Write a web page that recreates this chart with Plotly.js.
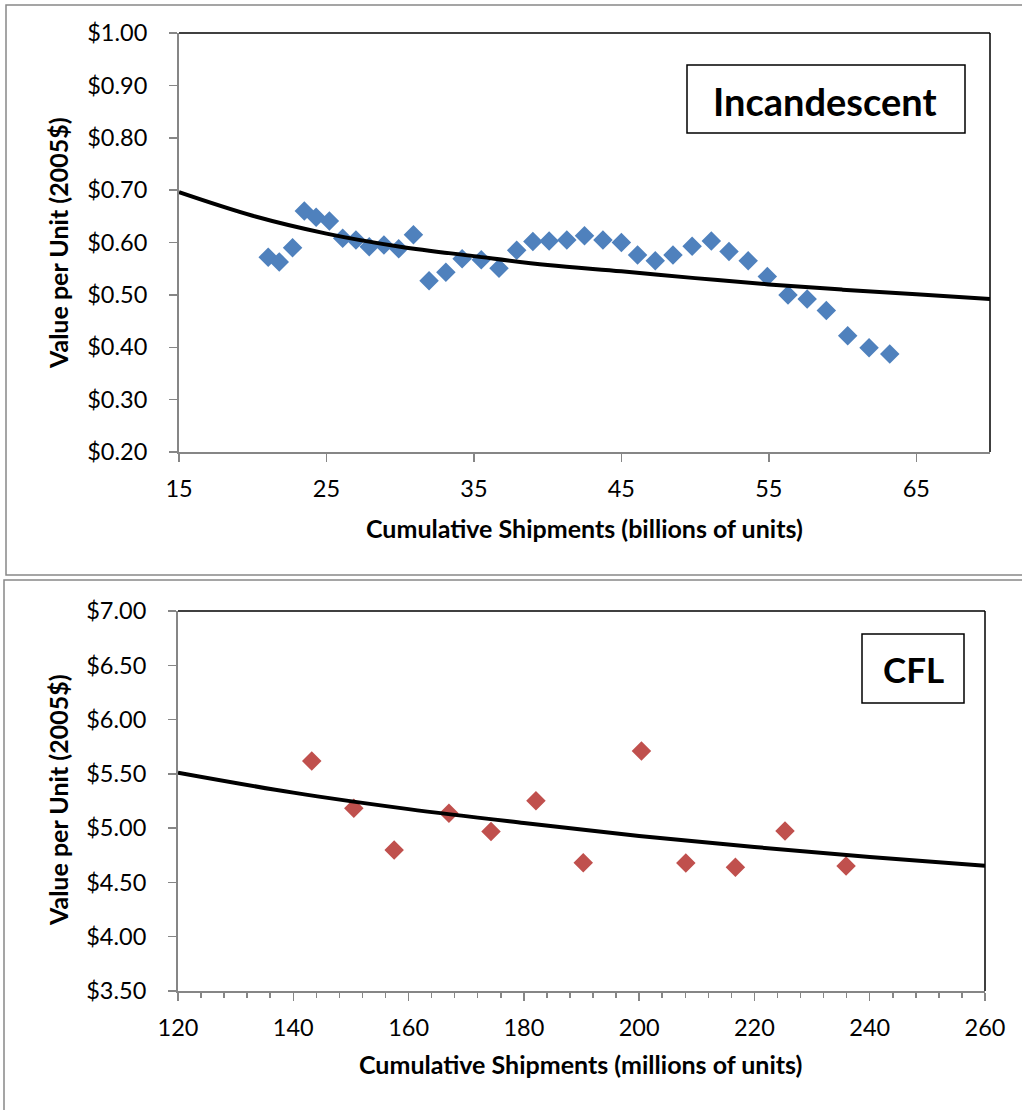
<!DOCTYPE html>
<html>
<head>
<meta charset="utf-8">
<script src="https://cdn.plot.ly/plotly-3.0.1.min.js"></script>
<style>html,body{margin:0;padding:0;background:#fff;}#chart{width:1022px;height:1110px;}</style>
</head>
<body>
<div id="chart"></div>
<script>
// Incandescent: cumulative shipments (billions) and value per unit (2005$)
const incX = [21.05, 21.8, 22.7, 23.5, 24.3, 25.2, 26.1, 27.0, 27.9, 28.9, 29.9, 30.9, 31.96, 33.1, 34.2, 35.5, 36.7, 37.9, 39.0, 40.1, 41.3, 42.5, 43.75, 45.0, 46.1, 47.3, 48.5, 49.8, 51.1, 52.3, 53.6, 54.9, 56.3, 57.6, 58.9, 60.35, 61.8, 63.2];
const incY = [0.572, 0.563, 0.590, 0.660, 0.648, 0.641, 0.608, 0.605, 0.592, 0.595, 0.588, 0.615, 0.527, 0.543, 0.569, 0.567, 0.551, 0.585, 0.602, 0.603, 0.605, 0.613, 0.605, 0.600, 0.576, 0.565, 0.576, 0.593, 0.603, 0.583, 0.565, 0.535, 0.500, 0.492, 0.470, 0.422, 0.399, 0.387];
// Incandescent trend line
const incTrendX = [15, 20, 25, 30, 35, 40, 45, 50, 55, 60, 65, 70];
const incTrendY = [0.696, 0.651, 0.617, 0.592, 0.574, 0.557, 0.545, 0.532, 0.520, 0.510, 0.501, 0.492];

// CFL: cumulative shipments (millions) and value per unit (2005$)
const cflX = [143.2, 150.5, 157.5, 167.0, 174.3, 182.1, 190.3, 200.4, 208.1, 216.7, 225.3, 235.9];
const cflY = [5.618, 5.183, 4.799, 5.137, 4.968, 5.253, 4.682, 5.710, 4.679, 4.639, 4.974, 4.651];
// CFL trend line
const cflTrendX = [120, 140, 160, 180, 200, 220, 240, 260];
const cflTrendY = [5.511, 5.327, 5.175, 5.047, 4.928, 4.826, 4.735, 4.654];

const incTitle = 'Incandescent';
const cflTitle = 'CFL';
const yTitle = 'Value per Unit (2005$)';
const xTitleTop = 'Cumulative Shipments (billions of units)';
const xTitleBottom = 'Cumulative Shipments (millions of units)';

const W = 1022, H = 1110;
const px = v => v / W;
const py = v => 1 - v / H;

const FONT = 'Lato, "Open Sans", sans-serif';
const AX = '#868686';

const traces = [
  {x: incX, y: incY, xaxis: 'x', yaxis: 'y', mode: 'markers', type: 'scatter',
   marker: {symbol: 'diamond', size: 15, color: '#4F81BD', line: {width: 0}}},
  {x: incTrendX, y: incTrendY, xaxis: 'x', yaxis: 'y', mode: 'lines', type: 'scatter',
   line: {color: '#000', width: 4, shape: 'spline'}},
  {x: cflX, y: cflY, xaxis: 'x2', yaxis: 'y2', mode: 'markers', type: 'scatter',
   marker: {symbol: 'diamond', size: 15, color: '#C0504D', line: {width: 0}}},
  {x: cflTrendX, y: cflTrendY, xaxis: 'x2', yaxis: 'y2', mode: 'lines', type: 'scatter',
   line: {color: '#000', width: 4, shape: 'spline'}}
];

const tickFont = {family: FONT, size: 23.5, color: '#000'};
const baseAxis = {
  showgrid: false, zeroline: false, showline: true, linecolor: AX, linewidth: 2,
  ticks: 'outside', tickcolor: AX, tickwidth: 1.5, ticklen: 8, tickfont: tickFont,
  fixedrange: true
};

const layout = {
  width: W, height: H,
  margin: {l: 0, r: 0, t: 0, b: 0},
  paper_bgcolor: '#fff', plot_bgcolor: '#fff',
  showlegend: false,
  xaxis: Object.assign({}, baseAxis, {
    domain: [px(179), px(990)], anchor: 'y', range: [15, 70],
    tick0: 15, dtick: 10, ticklabelstandoff: 7
  }),
  yaxis: Object.assign({}, baseAxis, {
    domain: [py(452), py(33)], anchor: 'x', range: [0.2, 1.0],
    dtick: 0.1, tickformat: '$.2f', ticklabelstandoff: 17
  }),
  xaxis2: Object.assign({}, baseAxis, {
    domain: [px(178), px(985)], anchor: 'y2', range: [120, 260],
    tick0: 120, dtick: 20, ticklabelstandoff: 7,
    minor: {dtick: 4, ticks: 'outside', ticklen: 5, tickcolor: AX, tickwidth: 1.5, showgrid: false}
  }),
  yaxis2: Object.assign({}, baseAxis, {
    domain: [py(991), py(611)], anchor: 'x2', range: [3.5, 7.0],
    dtick: 0.5, tickformat: '$.2f', ticklabelstandoff: 17
  }),
  shapes: [
    {type: 'rect', xref: 'paper', yref: 'paper', x0: px(6), x1: px(1030), y0: py(575), y1: py(5),
     line: {color: '#888', width: 1.5}, layer: 'below'},
    {type: 'rect', xref: 'paper', yref: 'paper', x0: px(4), x1: px(1030), y0: py(1120), y1: py(580),
     line: {color: '#888', width: 1.5}, layer: 'below'},
    {type: 'line', xref: 'paper', yref: 'paper', x0: px(179), x1: px(990), y0: py(33), y1: py(33), line: {color: '#000', width: 1.5}},
    {type: 'line', xref: 'paper', yref: 'paper', x0: px(990), x1: px(990), y0: py(33), y1: py(452), line: {color: '#000', width: 1.5}},
    {type: 'line', xref: 'paper', yref: 'paper', x0: px(178), x1: px(985), y0: py(611), y1: py(611), line: {color: '#000', width: 1.5}},
    {type: 'line', xref: 'paper', yref: 'paper', x0: px(985), x1: px(985), y0: py(611), y1: py(991), line: {color: '#000', width: 1.5}},
    {type: 'rect', xref: 'paper', yref: 'paper', x0: px(687), x1: px(965), y0: py(133), y1: py(65),
     line: {color: '#000', width: 1.5}, fillcolor: '#fff'},
    {type: 'rect', xref: 'paper', yref: 'paper', x0: px(862), x1: px(964), y0: py(703), y1: py(634),
     line: {color: '#000', width: 1.5}, fillcolor: '#fff'}
  ],
  annotations: [
    {xref: 'paper', yref: 'paper', x: px(825), y: py(101), text: '<b>' + incTitle + '</b>', showarrow: false,
     font: {family: FONT, size: 38, color: '#000'}, xanchor: 'center', yanchor: 'middle'},
    {xref: 'paper', yref: 'paper', x: px(913), y: py(669), text: '<b>' + cflTitle + '</b>', showarrow: false,
     font: {family: FONT, size: 35, color: '#000'}, xanchor: 'center', yanchor: 'middle'},
    {xref: 'paper', yref: 'paper', x: px(584), y: py(528), text: '<b>' + xTitleTop + '</b>', showarrow: false,
     font: {family: FONT, size: 25, color: '#000'}, xanchor: 'center', yanchor: 'middle'},
    {xref: 'paper', yref: 'paper', x: px(580), y: py(1064), text: '<b>' + xTitleBottom + '</b>', showarrow: false,
     font: {family: FONT, size: 25, color: '#000'}, xanchor: 'center', yanchor: 'middle'},
    {xref: 'paper', yref: 'paper', x: px(58), y: py(243), text: '<b>' + yTitle + '</b>', showarrow: false, textangle: -90,
     font: {family: FONT, size: 25, color: '#000'}, xanchor: 'center', yanchor: 'middle'},
    {xref: 'paper', yref: 'paper', x: px(58), y: py(800), text: '<b>' + yTitle + '</b>', showarrow: false, textangle: -90,
     font: {family: FONT, size: 25, color: '#000'}, xanchor: 'center', yanchor: 'middle'}
  ]
};

Plotly.newPlot('chart', traces, layout, {displayModeBar: false, staticPlot: true});
</script>
</body>
</html>
